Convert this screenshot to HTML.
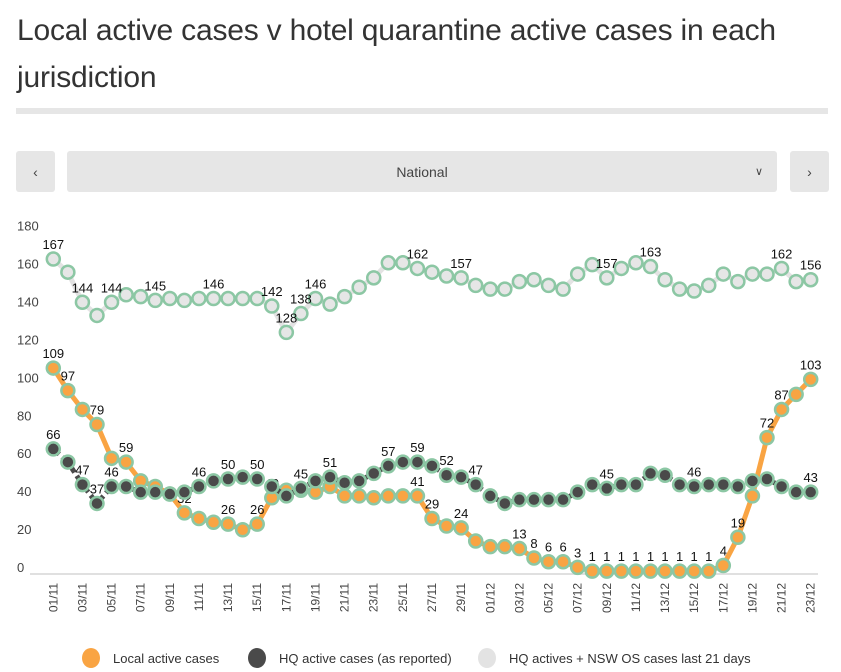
<!DOCTYPE html>
<html><head><meta charset="utf-8">
<style>
body{margin:0;background:#fff;width:841px;height:672px;overflow:hidden;font-family:"Liberation Sans",sans-serif;position:relative}
.title{position:absolute;left:17px;top:7px;width:820px;font-size:30px;line-height:47px;color:#333;letter-spacing:-0.2px}
.rule{position:absolute;left:16px;top:108px;width:812px;height:6px;background:#e6e6e6}
.btn{position:absolute;top:151px;height:41px;background:#e6e6e6;border-radius:3px;color:#444;font-size:14px;display:flex;align-items:center;justify-content:center}
</style></head><body>
<div class="title">Local active cases v hotel quarantine active cases in each jurisdiction</div>
<div class="rule"></div>
<div class="btn" style="left:16px;width:39px">&#8249;</div>
<div class="btn" style="left:67px;width:710px">National<span style="position:absolute;right:14px;font-size:11px">&#8744;</span></div>
<div class="btn" style="left:790px;width:39px">&#8250;</div>
<svg id="chart" width="841" height="672" style="position:absolute;left:0;top:0"></svg>
<script>
const yTicks=[0,20,40,60,80,100,120,140,160,180];
const localVals=[109,97,87,79,61,59,49,46,42,32,29,27,26,23,26,40,44,44,43,46,41,41,40,41,41,41,29,25,24,17,14,14,13,8,6,6,3,1,1,1,1,1,1,1,1,1,4,19,41,72,87,95,103];
const hqVals=[66,59,47,37,46,46,43,43,42,43,46,49,50,51,50,46,41,45,49,51,48,49,53,57,59,59,57,52,51,47,41,37,39,39,39,39,43,47,45,47,47,53,52,47,46,47,47,46,49,50,46,43,43];
const totalVals=[167,160,144,137,144,148,147,145,146,145,146,146,146,146,146,142,128,138,146,143,147,152,157,165,165,162,160,158,157,153,151,151,155,156,153,151,159,164,157,162,165,163,156,151,150,153,159,155,159,159,162,155,156];
const localLabelIdx=[0,1,3,5,9,12,14,15,25,26,28,32,33,34,35,36,37,38,39,40,41,42,43,44,45,46,47,49,50,52];
const hqLabelIdx=[0,2,3,4,10,12,14,17,19,23,25,27,29,38,44,52];
const totalLabelIdx=[0,2,4,7,11,15,16,17,18,25,28,38,41,50,52];
const dates=[];
for(let d=1;d<=30;d++)dates.push(String(d).padStart(2,'0')+'/11');
for(let d=1;d<=23;d++)dates.push(String(d).padStart(2,'0')+'/12');

const svg=document.getElementById('chart');
const NS='http://www.w3.org/2000/svg';
const x0=53.3,x1=810.7,yZero=573,pxPer=1.88;
const n=dates.length;
function xs(i){return x0+(x1-x0)*i/(n-1);}
function ys(v){return yZero-v*pxPer;}
function mk(tag,attrs,parent){const e=document.createElementNS(NS,tag);for(const k in attrs)e.setAttribute(k,attrs[k]);(parent||svg).appendChild(e);return e;}

yTicks.forEach(v=>{
  const t=mk('text',{x:17,y:ys(v)-(v===0?0:3)*(v/180)-1,'font-size':13,fill:'#444'});
  
  
  t.textContent=v;
});
const ax=mk('line',{x1:30,x2:818,y1:574,y2:574,stroke:'#e0e0e0','stroke-width':2});


dates.forEach((d,i)=>{
  if(i%2!==0)return;
  const t=mk('text',{x:0,y:0,'font-size':12,fill:'#444','text-anchor':'end',transform:`translate(${xs(i)+4},583) rotate(-90)`});
  
  
  t.textContent=d;
});

function series(vals,lineColor,fill,name,dash,labels){
  const g=mk('g',{});
  
  
  const p=mk('path',{d:vals.map((v,i)=>(i?'L':'M')+xs(i).toFixed(1)+' '+ys(v).toFixed(1)).join(' '),fill:'none',stroke:lineColor,'stroke-width':5,'stroke-linejoin':'round','stroke-dasharray':dash||'none'},g);
  
  
  vals.forEach((v,i)=>{
    const c=mk('circle',{cx:xs(i),cy:ys(v),r:6.5,fill:fill,stroke:'#8cc7a4','stroke-width':2.5},g);
    
    
  });
  labels.forEach(i=>{
    const t=mk('text',{x:xs(i),y:ys(vals[i])-10,'font-size':13,fill:'#111','text-anchor':'middle'},g);
    
    
    t.textContent=vals[i];
  });
}
series(totalVals,'#e3e3e3','#e6e6e6','total',null,totalLabelIdx);
series(localVals,'#f9a443','#f9a443','local',null,localLabelIdx);
series(hqVals,'#4a4a4a','#4a4a4a','hq','8 4',hqLabelIdx);

const leg=[['Local active cases','#f9a443',91,113],['HQ active cases (as reported)','#4a4a4a',257,279],['HQ actives + NSW OS cases last 21 days','#e3e3e3',487,509]];
leg.forEach(l=>{
  const g=mk('g',{});
  
  
  mk('ellipse',{cx:l[2],cy:658,rx:9,ry:10,fill:l[1]},g);
  const t=mk('text',{x:l[3],y:663,'font-size':13,fill:'#333'},g);
  t.textContent=l[0];
});
</script>
</body></html>
